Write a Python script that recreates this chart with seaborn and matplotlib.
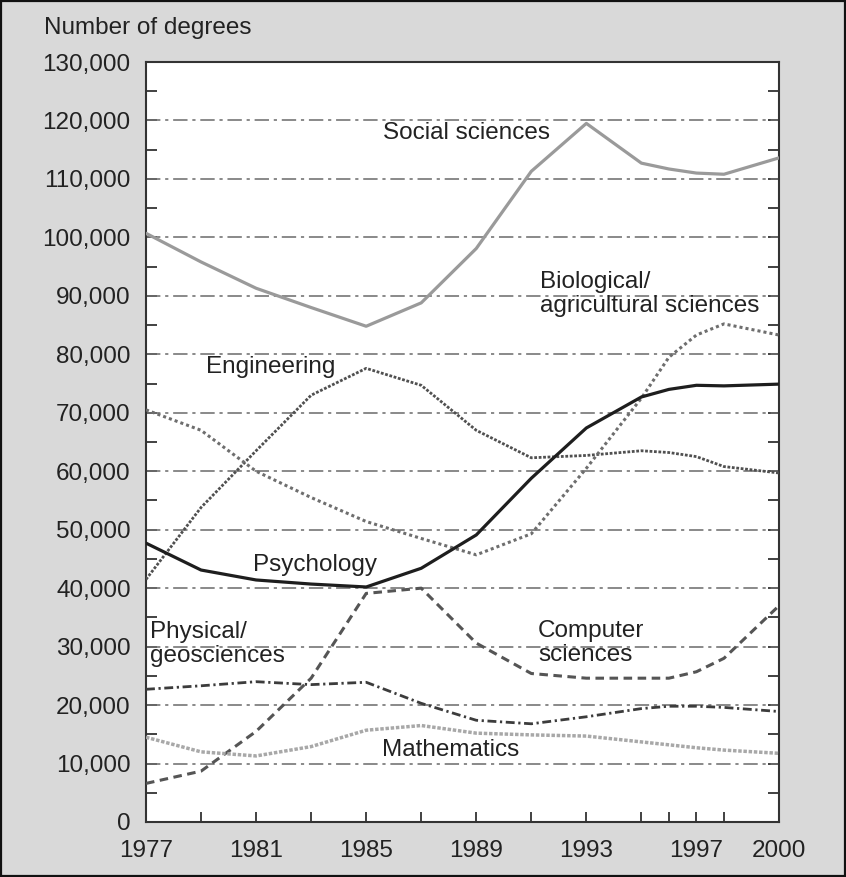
import matplotlib
matplotlib.use("Agg")
import matplotlib.pyplot as plt
from matplotlib.ticker import FixedLocator, MultipleLocator, FuncFormatter
from matplotlib.patches import Rectangle
import seaborn as sns
import pandas as pd

# Degrees awarded by field, selected years
years = [1977, 1979, 1981, 1983, 1985, 1987, 1989, 1991, 1993, 1995, 1996, 1997, 1998, 2000]
social_sciences = [100700, 95800, 91300, 88000, 84800, 88800, 98100, 111300, 119500, 112700, 111700, 111000, 110800, 113600]
engineering = [41500, 53800, 63500, 73000, 77600, 74700, 67000, 62300, 62700, 63500, 63200, 62500, 60800, 59700]
biological = [70500, 67000, 60000, 55500, 51400, 48500, 45700, 49300, 60500, 72500, 79500, 83300, 85200, 83300]
psychology = [47700, 43100, 41400, 40700, 40200, 43400, 49100, 58800, 67400, 72700, 74000, 74700, 74600, 74900]
computer = [6600, 8700, 15500, 24600, 39100, 40000, 30600, 25400, 24600, 24600, 24600, 25700, 28000, 37000]
physical = [22700, 23300, 24000, 23500, 23900, 20300, 17400, 16800, 18000, 19400, 19800, 19800, 19600, 18900]
mathematics = [14500, 12000, 11300, 12900, 15700, 16500, 15200, 14900, 14700, 13700, 13200, 12700, 12300, 11750]

labeled_years = [1977, 1981, 1985, 1989, 1993, 1997, 2000]
minor_years = [1979, 1983, 1987, 1991, 1995, 1996, 1998]

sns.set_theme(style="white")
plt.rcParams["font.family"] = ["Liberation Sans", "DejaVu Sans"]

FS = 17.5
BG = "#d9d9d9"
fig = plt.figure(figsize=(8.46, 8.77), dpi=100, facecolor=BG)
ax = fig.add_axes([146 / 846, 1 - 822 / 877, (779 - 146) / 846, (822 - 62) / 877])
ax.set_facecolor("white")

# Horizontal dash-dot guide lines at every 10,000
for v in range(10000, 130000, 10000):
    ax.axhline(v, color="#707070", lw=1.15, linestyle=(0, (9, 3, 2, 3)), zorder=1)

series = [
    (social_sciences, "#9a9a9a", 2.3, "-"),
    (engineering, "#505050", 2.0, (0, (1, 0.6))),
    (biological, "#6e6e6e", 2.2, (0, (1, 1.0))),
    (psychology, "#1e1e1e", 2.3, "-"),
    (computer, "#555555", 2.2, (0, (2.8, 1.8))),
    (physical, "#3c3c3c", 2.0, (0, (3.2, 1.3, 0.8, 1.3))),
    (mathematics, "#a8a8a8", 2.5, (0, (1, 0.5))),
]
for vals, color, lw, ls in series:
    df = pd.DataFrame({"year": years, "degrees": vals})
    sns.lineplot(data=df, x="year", y="degrees", ax=ax, color=color,
                 linewidth=lw, linestyle=ls, zorder=3)

ax.set_xlim(1977, 2000)
ax.set_ylim(0, 130000)
ax.set_xlabel("")
ax.set_ylabel("")

ax.xaxis.set_major_locator(FixedLocator(labeled_years))
ax.xaxis.set_minor_locator(FixedLocator(minor_years))
ax.yaxis.set_major_locator(MultipleLocator(10000))
ax.yaxis.set_minor_locator(MultipleLocator(5000))
ax.yaxis.set_major_formatter(FuncFormatter(lambda v, p: f"{int(v):,}"))

ax.tick_params(axis="x", which="both", direction="in", length=7.5, width=1.3,
               color="#333333", labelsize=FS, pad=13, bottom=True, top=False)
ax.tick_params(axis="y", which="both", direction="in", length=8, width=1.3,
               color="#333333", labelsize=FS, pad=11, left=True, right=True)
for lab in ax.get_xticklabels() + ax.get_yticklabels():
    lab.set_color("#222222")

for s in ax.spines.values():
    s.set_color("#333333")
    s.set_linewidth(1.5)
    s.set_visible(True)

# Series labels
tk = dict(fontsize=FS, color="#222222", va="center", ha="left", linespacing=1.12,
          transform=fig.transFigure)
def put(x, y, s):
    fig.text(x / 846, 1 - y / 877, s, **tk)

put(44, 28, "Number of degrees")
put(383, 133, "Social sciences")
put(540, 294, "Biological/\nagricultural sciences")
put(206, 367, "Engineering")
put(253, 565, "Psychology")
put(150, 644, "Physical/\ngeosciences")
put(538, 643, "Computer\nsciences")
put(382, 750, "Mathematics")

# Frame around the whole figure
fig.patches.append(Rectangle((0.001, 0.001), 0.998, 0.998, transform=fig.transFigure,
                             fill=False, edgecolor="#111111", linewidth=1.6))

fig.savefig("out.png", dpi=100, facecolor=BG)
